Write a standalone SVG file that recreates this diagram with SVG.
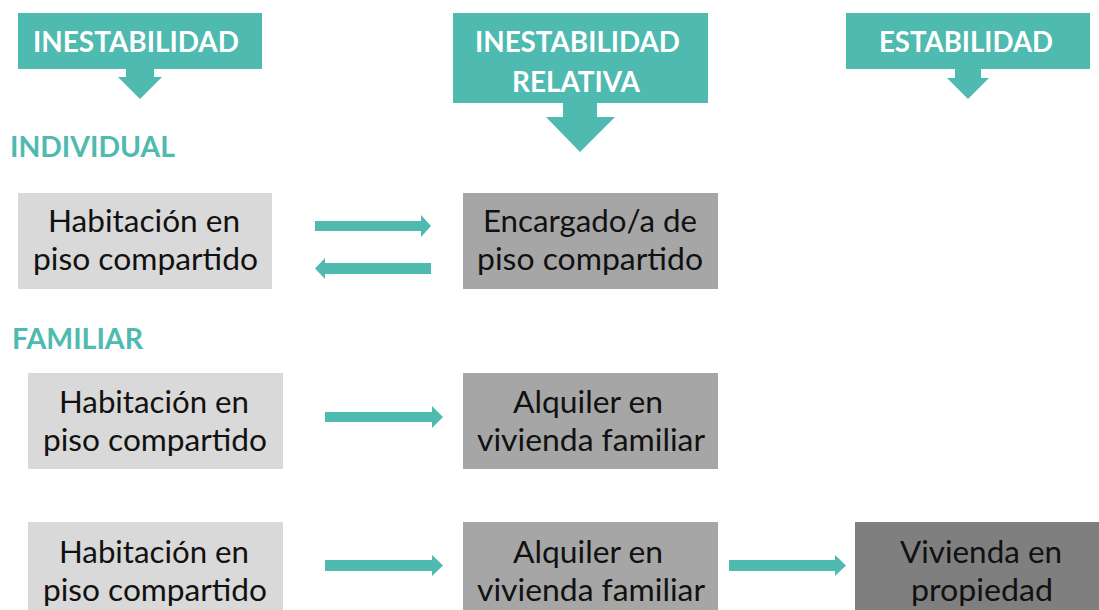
<svg xmlns="http://www.w3.org/2000/svg" width="1099" height="610" viewBox="0 0 1099 610">
<style>
.teal{fill:#4FBAAF}
.hdr{font-family:Lato,"Open Sans","Liberation Sans",sans-serif;font-weight:bold;font-size:28px;fill:#FFFFFF;text-anchor:middle}
.cat{font-family:Lato,"Open Sans","Liberation Sans",sans-serif;font-weight:bold;font-size:29px;fill:#4FBAAF}
.box1{fill:#D9D9D9}
.box2{fill:#A6A6A6}
.box3{fill:#7F7F7F}
.lbl{font-family:Lato,"Open Sans","Liberation Sans",sans-serif;font-size:30px;fill:#111111;text-anchor:middle}
</style>
<rect width="1099" height="610" fill="#FFFFFF"/>

<g id="hdr-inestabilidad">
<rect class="teal" x="18" y="13" width="244" height="56"/>
<polygon class="teal" points="126,68 154,68 154,77 162,77 140,99 118,77 126,77"/>
<text class="hdr" x="136" y="52" textLength="206" lengthAdjust="spacingAndGlyphs">INESTABILIDAD</text>
</g>

<g id="hdr-inestabilidad-relativa">
<rect class="teal" x="453" y="13" width="255" height="90"/>
<polygon class="teal" points="563,102 597,102 597,117 615,117 580,152 546,117 563,117"/>
<text class="hdr" x="577.5" y="52" textLength="205" lengthAdjust="spacingAndGlyphs">INESTABILIDAD</text>
<text class="hdr" x="576" y="92" textLength="128" lengthAdjust="spacingAndGlyphs">RELATIVA</text>
</g>

<g id="hdr-estabilidad">
<rect class="teal" x="846" y="13" width="244" height="56"/>
<polygon class="teal" points="955,68 981,68 981,78 989,78 968,99 947,78 955,78"/>
<text class="hdr" x="966" y="52" textLength="174" lengthAdjust="spacingAndGlyphs">ESTABILIDAD</text>
</g>

<g id="cat-individual">
<text class="cat" x="10" y="157" textLength="165" lengthAdjust="spacingAndGlyphs">INDIVIDUAL</text>
</g>
<g id="cat-familiar">
<text class="cat" x="12" y="349" textLength="131" lengthAdjust="spacingAndGlyphs">FAMILIAR</text>
</g>

<g id="n-ind-habitacion">
<rect class="box1" x="18" y="193" width="254" height="96"/>
<text class="lbl" x="144" y="232" textLength="192" lengthAdjust="spacingAndGlyphs">Habitación en</text>
<text class="lbl" x="145.5" y="270" textLength="225" lengthAdjust="spacingAndGlyphs">piso compartido</text>
</g>

<g id="n-ind-encargado">
<rect class="box2" x="463" y="193" width="255" height="96"/>
<text class="lbl" x="590" y="232" textLength="214" lengthAdjust="spacingAndGlyphs">Encargado/a de</text>
<text class="lbl" x="590" y="270" textLength="226" lengthAdjust="spacingAndGlyphs">piso compartido</text>
</g>

<g id="n-fam1-habitacion">
<rect class="box1" x="28" y="373" width="255" height="96"/>
<text class="lbl" x="154" y="413" textLength="190" lengthAdjust="spacingAndGlyphs">Habitación en</text>
<text class="lbl" x="155" y="451" textLength="224" lengthAdjust="spacingAndGlyphs">piso compartido</text>
</g>

<g id="n-fam1-alquiler">
<rect class="box2" x="463" y="373" width="255" height="96"/>
<text class="lbl" x="588" y="413" textLength="150" lengthAdjust="spacingAndGlyphs">Alquiler en</text>
<text class="lbl" x="591" y="451" textLength="228" lengthAdjust="spacingAndGlyphs">vivienda familiar</text>
</g>

<g id="n-fam2-habitacion">
<rect class="box1" x="28" y="522" width="255" height="96"/>
<text class="lbl" x="154" y="563" textLength="190" lengthAdjust="spacingAndGlyphs">Habitación en</text>
<text class="lbl" x="155" y="601" textLength="224" lengthAdjust="spacingAndGlyphs">piso compartido</text>
</g>

<g id="n-fam2-alquiler">
<rect class="box2" x="463" y="522" width="255" height="96"/>
<text class="lbl" x="588" y="563" textLength="150" lengthAdjust="spacingAndGlyphs">Alquiler en</text>
<text class="lbl" x="591" y="601" textLength="228" lengthAdjust="spacingAndGlyphs">vivienda familiar</text>
</g>

<g id="n-fam2-propiedad">
<rect class="box3" x="855" y="522" width="255" height="96"/>
<text class="lbl" x="981" y="563" textLength="162" lengthAdjust="spacingAndGlyphs">Vivienda en</text>
<text class="lbl" x="982" y="601" textLength="142" lengthAdjust="spacingAndGlyphs">propiedad</text>
</g>

<g id="connectors">
<polygon class="teal" points="315,221 421,221 421,215 431,226 421,237 421,231 315,231"/>
<polygon class="teal" points="431,263 325,263 325,258 315,268.5 325,279 325,274 431,274"/>
<polygon class="teal" points="325,412 432,412 432,406 443,417 432,428 432,422 325,422"/>
<polygon class="teal" points="325,560 432,560 432,555 443,565.5 432,576 432,571 325,571"/>
<polygon class="teal" points="729,560 835,560 835,555 846,565.5 835,576 835,571 729,571"/>
</g>
</svg>
